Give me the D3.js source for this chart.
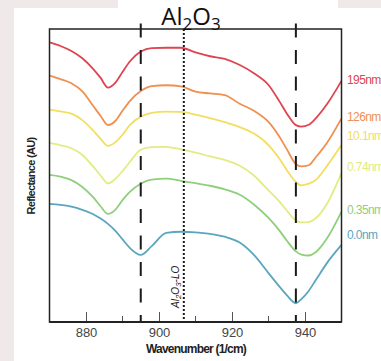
<!DOCTYPE html>
<html>
<head>
<meta charset="utf-8">
<script src="https://cdn.jsdelivr.net/npm/d3@7"></script>
<style>
  body { margin: 0; background: #efe9e9; }
  svg { display: block; }
</style>
</head>
<body>
<div id="chart"></div>
<script>
// wavenumbers (1/cm) sampled along every spectrum
var wavenumbers = [870, 873, 876, 879, 882, 884, 886, 888, 890, 892, 895, 898, 902, 906,
  910, 914, 918, 922, 926, 930, 933, 935, 937.5, 939, 941, 943, 946, 950];

// reflectance (AU, offset for display)
var r195 = [9.54, 9.42, 9.25, 9.00, 8.63, 8.33, 8.00, 8.16, 8.53, 8.89, 9.23, 9.35, 9.36, 9.36,
  9.20, 9.07, 8.98, 8.78, 8.49, 8.09, 7.53, 7.12, 6.72, 6.67, 6.73, 6.96, 7.43, 8.23];
var r126 = [8.41, 8.29, 8.15, 7.87, 7.37, 7.03, 6.72, 6.86, 7.21, 7.54, 7.88, 8.05, 8.08, 8.04,
  7.86, 7.80, 7.74, 7.46, 7.21, 6.83, 6.32, 5.90, 5.39, 5.31, 5.35, 5.63, 6.11, 6.95];
var r101 = [7.25, 7.19, 7.11, 6.89, 6.53, 6.25, 6.01, 6.13, 6.39, 6.72, 7.01, 7.14, 7.18, 7.17,
  7.08, 6.96, 6.82, 6.66, 6.43, 6.04, 5.57, 5.19, 4.78, 4.66, 4.72, 4.85, 5.32, 6.04];
var r074 = [6.11, 6.03, 5.93, 5.70, 5.30, 5.00, 4.73, 4.88, 5.15, 5.46, 5.88, 5.97, 5.98, 5.89,
  5.78, 5.65, 5.53, 5.34, 5.00, 4.49, 4.11, 3.81, 3.46, 3.40, 3.41, 3.55, 4.03, 5.09];
var r035 = [5.02, 4.96, 4.84, 4.61, 4.25, 3.95, 3.69, 3.83, 4.16, 4.44, 4.72, 4.86, 4.89, 4.82,
  4.74, 4.65, 4.53, 4.35, 4.01, 3.55, 3.12, 2.78, 2.41, 2.30, 2.27, 2.39, 2.85, 3.77];
var r000 = [4.03, 4.00, 3.94, 3.83, 3.68, 3.53, 3.35, 3.12, 2.82, 2.53, 2.29, 2.59, 3.04, 3.08,
  3.06, 3.01, 2.91, 2.72, 2.29, 1.67, 1.21, 0.92, 0.64, 0.78, 1.06, 1.44, 2.01, 2.63];

var seriesNames = ["195nm", "126nm", "10.1nm", "0.74nm", "0.35nm", "0.0nm"];
var seriesValues = [r195, r126, r101, r074, r035, r000];
var seriesColors = ["#dd4550", "#ef9050", "#f2de60", "#e2ec82", "#8fcf7c", "#5aa6be"];

// reference lines
var dashedLines = [895, 937.5];
var dottedLine = 906.8;

var xTicks = [880, 900, 920, 940];
var xMinorTicks = [890, 910, 930];

var width = 381, height = 361;
var margin = { top: 29, right: 39.5, bottom: 39, left: 49.5 };
var chartWidth = width - margin.left - margin.right;
var chartHeight = height - margin.top - margin.bottom;

var svg = d3.select("#chart").append("svg")
  .attr("width", width)
  .attr("height", height);

// slide background
svg.append("rect").attr("width", width).attr("height", height).attr("fill", "#efe9e9");
svg.append("rect").attr("x", 14).attr("y", 8).attr("width", width - 14).attr("height", height - 8).attr("fill", "#fff");
svg.append("rect").attr("x", 118).attr("y", 0).attr("width", 220).attr("height", 8).attr("fill", "#fff");

var x = d3.scaleLinear().domain([870, 950]).range([0, chartWidth]);
var y = d3.scaleLinear().domain([0, 10]).range([chartHeight, 0]);

var chartGroup = svg.append("g")
  .attr("transform", `translate(${margin.left}, ${margin.top})`);

// ticks pointing inward from the bottom axis
var xAxis = d3.axisBottom(x).tickValues(xTicks).tickSize(-10).tickPadding(6).tickFormat(d3.format("d"));
var axisG = chartGroup.append("g")
  .attr("transform", `translate(0, ${chartHeight})`)
  .call(xAxis);
axisG.select(".domain").remove();
axisG.selectAll(".tick line").attr("stroke", "#555");
axisG.selectAll(".tick text")
  .attr("font-family", "Liberation Sans, Arial, sans-serif")
  .attr("font-size", 13)
  .attr("fill", "#444");

chartGroup.append("g")
  .selectAll("line")
  .data(xMinorTicks)
  .enter()
  .append("line")
  .attr("x1", d => x(d)).attr("x2", d => x(d))
  .attr("y1", chartHeight).attr("y2", chartHeight - 6)
  .attr("stroke", "#555");

// spectra
var line = d3.line()
  .x((d, i) => x(wavenumbers[i]))
  .y(d => y(d))
  .curve(d3.curveMonotoneX);

chartGroup.selectAll(".spectrum")
  .data(seriesValues)
  .enter()
  .append("path")
  .attr("class", "spectrum")
  .attr("d", d => line(d))
  .attr("fill", "none")
  .attr("stroke", (d, i) => seriesColors[i])
  .attr("stroke-width", 1.8);

// dashed and dotted guides
chartGroup.selectAll(".dash")
  .data(dashedLines)
  .enter()
  .append("line")
  .attr("x1", d => x(d)).attr("x2", d => x(d))
  .attr("y1", -5.5).attr("y2", chartHeight)
  .attr("stroke", "#1a1a1a")
  .attr("stroke-width", 2)
  .attr("stroke-dasharray", "14,12.5");

chartGroup.append("line")
  .attr("x1", x(dottedLine)).attr("x2", x(dottedLine))
  .attr("y1", 0).attr("y2", chartHeight)
  .attr("stroke", "#1a1a1a")
  .attr("stroke-width", 2)
  .attr("stroke-dasharray", "2,2");

var loLabel = chartGroup.append("text")
  .attr("transform", `translate(${x(dottedLine) - 5}, ${chartHeight - 14}) rotate(-90)`)
  .attr("font-family", "Liberation Sans, Arial, sans-serif")
  .attr("font-style", "italic")
  .attr("font-size", 10)
  .attr("fill", "#222");
loLabel.append("tspan").text("Al");
loLabel.append("tspan").attr("font-size", 8).attr("dy", 2).text("2");
loLabel.append("tspan").attr("dy", -2).text("O");
loLabel.append("tspan").attr("font-size", 8).attr("dy", 2).text("3");
loLabel.append("tspan").attr("dy", -2).text("-LO");

// frame
chartGroup.append("rect")
  .attr("width", chartWidth).attr("height", chartHeight)
  .attr("fill", "none")
  .attr("stroke", "#222")
  .attr("stroke-width", 1.5);
chartGroup.append("line")
  .attr("x1", 0).attr("x2", chartWidth)
  .attr("y1", chartHeight).attr("y2", chartHeight)
  .attr("stroke", "#222").attr("stroke-width", 2);

// series labels at the right edge (cut off by the window, as in the figure)
var labelNudge = [-1, -1.5, -9, -6, -1.5, -10];
chartGroup.selectAll(".slabel")
  .data(seriesValues)
  .enter()
  .append("text")
  .attr("class", "slabel")
  .attr("x", chartWidth + 5.5)
  .attr("y", (d, i) => y(d[d.length - 1]) + labelNudge[i])
  .attr("dy", "0.35em")
  .attr("font-family", "Liberation Sans, Arial, sans-serif")
  .attr("font-size", 12)
  .attr("letter-spacing", -0.6)
  .attr("fill", (d, i) => seriesColors[i])
  .text((d, i) => seriesNames[i]);

// title
var title = svg.append("text")
  .attr("x", 191)
  .attr("y", 25)
  .attr("text-anchor", "middle")
  .attr("font-family", "Open Sans, sans-serif")
  .attr("font-size", 24)
  .attr("fill", "#111");
title.append("tspan").text("Al");
title.append("tspan").attr("font-size", 17).attr("dy", 5).text("2");
title.append("tspan").attr("dy", -5).text("O");
title.append("tspan").attr("font-size", 17).attr("dy", 5).text("3");

// axis titles
svg.append("text")
  .attr("x", 196)
  .attr("y", 353)
  .attr("text-anchor", "middle")
  .attr("font-family", "Liberation Sans, Arial, sans-serif")
  .attr("font-weight", "bold")
  .attr("font-size", 12)
  .attr("letter-spacing", -0.8)
  .attr("fill", "#222")
  .text("Wavenumber (1/cm)");

svg.append("text")
  .attr("transform", "translate(35, 176) rotate(-90)")
  .attr("text-anchor", "middle")
  .attr("font-family", "Liberation Sans, Arial, sans-serif")
  .attr("font-weight", "bold")
  .attr("font-size", 11)
  .attr("letter-spacing", -0.7)
  .attr("fill", "#222")
  .text("Reflectance (AU)");
</script>
</body>
</html>
